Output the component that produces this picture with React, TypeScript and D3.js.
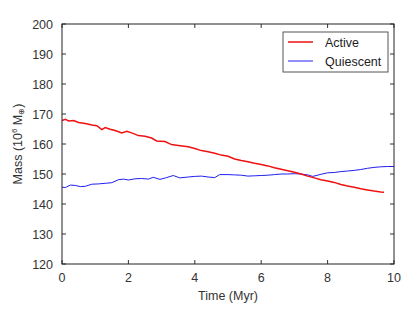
import React from "react";
import * as d3 from "d3";

// Active series
const activeT = [0, 0.1, 0.2, 0.35, 0.5, 0.7, 0.9, 1.05, 1.2, 1.3, 1.45, 1.6, 1.8, 1.95, 2.1, 2.3, 2.5, 2.7, 2.85, 3.1, 3.3, 3.5, 3.8, 4.0, 4.2, 4.4, 4.6, 4.8, 5.0, 5.2, 5.4, 5.6, 5.8, 6.0, 6.2, 6.4, 6.6, 6.8, 7.0, 7.2, 7.4, 7.6, 7.8, 8.0, 8.2, 8.4, 8.6, 8.8, 9.0, 9.2, 9.4, 9.6, 9.7];
const activeMass = [167.8, 168.2, 167.7, 167.8, 167.2, 166.8, 166.3, 166.1, 164.8, 165.5, 164.9, 164.5, 163.7, 164.2, 163.7, 162.8, 162.6, 162.0, 161.0, 160.8, 159.8, 159.5, 159.1, 158.5, 157.8, 157.4, 156.9, 156.3, 155.9, 155.0, 154.5, 154.1, 153.6, 153.2, 152.7, 152.1, 151.6, 151.1, 150.6, 150.0, 149.3, 148.7, 148.1, 147.7, 147.2, 146.5, 146.0, 145.6, 145.1, 144.7, 144.3, 144.0, 143.9];

// Quiescent series
const quietT = [0, 0.1, 0.25, 0.4, 0.55, 0.7, 0.9, 1.1, 1.3, 1.5, 1.7, 1.85, 2.0, 2.2, 2.4, 2.6, 2.75, 2.95, 3.15, 3.35, 3.55, 3.8, 4.0, 4.2, 4.4, 4.6, 4.75, 5.0, 5.2, 5.4, 5.6, 5.8, 6.0, 6.2, 6.4, 6.6, 6.8, 7.0, 7.2, 7.4, 7.55, 7.8, 8.0, 8.2, 8.4, 8.6, 8.8, 9.0, 9.2, 9.4, 9.6, 9.8, 10.0];
const quietMass = [145.6, 145.5, 146.3, 146.2, 145.8, 145.9, 146.6, 146.7, 146.9, 147.1, 148.1, 148.3, 148.0, 148.4, 148.5, 148.3, 148.9, 148.2, 148.8, 149.5, 148.7, 149.0, 149.2, 149.3, 149.0, 148.8, 149.8, 149.8, 149.7, 149.6, 149.3, 149.4, 149.5, 149.6, 149.8, 150.0, 150.0, 150.1, 150.0, 149.7, 149.2, 149.9, 150.4, 150.5, 150.8, 151.0, 151.2, 151.5, 151.9, 152.2, 152.4, 152.5, 152.5];

const xTicks = [0, 2, 4, 6, 8, 10];
const yTicks = [120, 130, 140, 150, 160, 170, 180, 190, 200];

const width = 415;
const height = 311;
const margin = { top: 24, right: 21, bottom: 47, left: 62 };
const font = "'Liberation Sans', Arial, sans-serif";

export default function App() {
  const x = d3.scaleLinear().domain([0, 10]).range([margin.left, width - margin.right]);
  const y = d3.scaleLinear().domain([120, 200]).range([height - margin.bottom, margin.top]);

  const line = d3.line<[number, number]>()
    .x(d => x(d[0]))
    .y(d => y(d[1]));

  const activePath = line(activeT.map((t, i) => [t, activeMass[i]]));
  const quietPath = line(quietT.map((t, i) => [t, quietMass[i]]));

  const x0 = x(0), x1 = x(10), y0 = y(120), y1 = y(200);
  const tick = 4;

  return (
    <svg width={width} height={height} style={{ position: "absolute", left: 0, top: 0, background: "#fff" }}>
      <g clipPath="url(#plotclip)">
        <defs>
          <clipPath id="plotclip">
            <rect x={x0} y={y1} width={x1 - x0} height={y0 - y1} />
          </clipPath>
        </defs>
        <path d={quietPath || ""} fill="none" stroke="#2020ee" strokeWidth={1} />
        <path d={activePath || ""} fill="none" stroke="#ee1111" strokeWidth={1.5} />
      </g>

      {/* ticks, inward on all sides */}
      {xTicks.map(t => (
        <g key={"xt" + t} stroke="#333" strokeWidth={1}>
          <line x1={x(t)} x2={x(t)} y1={y0} y2={y0 - tick} />
          <line x1={x(t)} x2={x(t)} y1={y1} y2={y1 + tick} />
        </g>
      ))}
      {yTicks.map(t => (
        <g key={"yt" + t} stroke="#333" strokeWidth={1}>
          <line x1={x0} x2={x0 + tick} y1={y(t)} y2={y(t)} />
          <line x1={x1} x2={x1 - tick} y1={y(t)} y2={y(t)} />
        </g>
      ))}
      <rect x={x0} y={y1} width={x1 - x0} height={y0 - y1} fill="none" stroke="#222" strokeWidth={1} />

      {/* tick labels */}
      {xTicks.map(t => (
        <text key={"xl" + t} x={x(t)} y={y0 + 18} textAnchor="middle" fontFamily={font} fontSize={12.5} fill="#333">{t}</text>
      ))}
      {yTicks.map(t => (
        <text key={"yl" + t} x={x0 - 9} y={y(t) + 4.5} textAnchor="end" fontFamily={font} fontSize={12.5} fill="#333">{t}</text>
      ))}

      {/* axis labels */}
      <text x={(x0 + x1) / 2} y={300} textAnchor="middle" fontFamily={font} fontSize={12.5} fill="#333">Time (Myr)</text>
      <text transform={`translate(22,${(y0 + y1) / 2}) rotate(-90)`} textAnchor="middle" fontFamily={font} fontSize={12.5} fill="#333">
        Mass (10<tspan dy={-5} fontSize={8}>6</tspan><tspan dy={5}> M</tspan><tspan dy={2} fontSize={8}>⊕</tspan><tspan dy={-2}>)</tspan>
      </text>

      {/* legend */}
      <g>
        <rect x={283} y={32} width={105} height={40} fill="#fff" stroke="#555" strokeWidth={1} />
        <line x1={288} x2={313} y1={42} y2={42} stroke="#ee1111" strokeWidth={1.5} />
        <text x={325} y={46.5} fontFamily={font} fontSize={12.5} fill="#222">Active</text>
        <line x1={288} x2={313} y1={61} y2={61} stroke="#2020ee" strokeWidth={1} />
        <text x={325} y={65.5} fontFamily={font} fontSize={12.5} fill="#222">Quiescent</text>
      </g>
    </svg>
  );
}
